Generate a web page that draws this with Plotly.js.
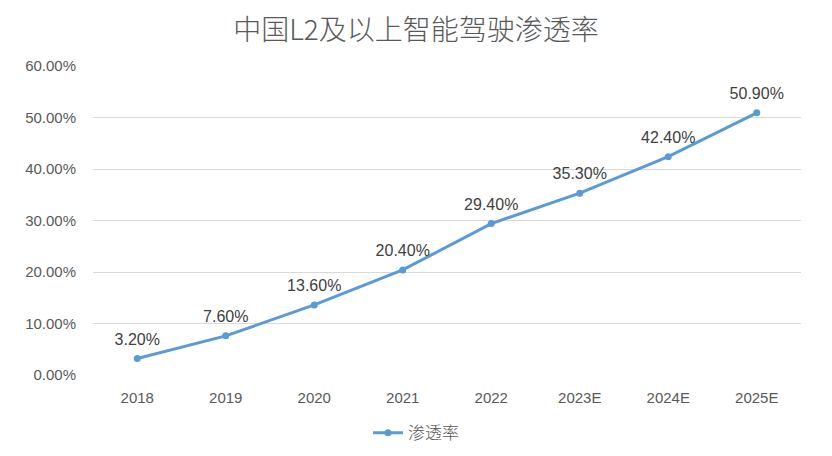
<!DOCTYPE html>
<html>
<head>
<meta charset="utf-8">
<script src="https://cdn.plot.ly/plotly-3.0.1.min.js"></script>
<style>html,body{margin:0;padding:0;background:#fff;}#chart{width:832px;height:456px;}</style>
</head>
<body>
<div id="chart"></div>
<script>
const categories = ["2018", "2019", "2020", "2021", "2022", "2023E", "2024E", "2025E"];
const penetration = [3.2, 7.6, 13.6, 20.4, 29.4, 35.3, 42.4, 50.9];
const seriesName = "渗透率";
const yTickVals = [0, 10, 20, 30, 40, 50, 60];
const yTickText = ["0.00%", "10.00%", "20.00%", "30.00%", "40.00%", "50.00%", "60.00%"];

const font = "'Liberation Sans', 'Noto Sans CJK SC', sans-serif";
const lineTrace = {
  x: categories,
  y: penetration,
  type: "scatter",
  mode: "lines+markers",
  name: seriesName,
  line: {color: "#5B9BD5", width: 3},
  marker: {color: "#5B9BD5", size: 7},
  cliponaxis: false,
  hoverinfo: "skip"
};
const labelTrace = {
  x: categories,
  y: penetration,
  type: "scatter",
  mode: "markers+text",
  showlegend: false,
  marker: {color: "rgba(0,0,0,0)", size: 14},
  text: penetration.map(v => v.toFixed(2) + "%"),
  textposition: "top center",
  textfont: {family: font, size: 16, color: "#404040"},
  cliponaxis: false,
  hoverinfo: "skip"
};
const layout = {
  width: 832, height: 456,
  margin: {l: 93, r: 31, t: 66, b: 81},
  paper_bgcolor: "#fff", plot_bgcolor: "#fff",
  title: {text: "中国L2及以上智能驾驶渗透率", x: 0.5, xanchor: "center", y: 0.934, yanchor: "middle",
          font: {family: "'Noto Sans CJK SC', sans-serif", size: 28, weight: 300, color: "#595959"}},
  xaxis: {type: "category", range: [-0.5, 7.5], showgrid: false, zeroline: false, showline: false, automargin: false,
          ticks: "", ticklabelstandoff: 12, tickfont: {family: font, size: 15, color: "#595959"}, fixedrange: true},
  yaxis: {range: [0, 60], tickvals: yTickVals, ticktext: yTickText, showgrid: true, gridcolor: "#D9D9D9", automargin: false,
          gridwidth: 1, zeroline: false, showline: false, ticks: "", ticklen: 0, ticklabelstandoff: 16,
          tickfont: {family: font, size: 15, color: "#595959"}, fixedrange: true},
  showlegend: true,
  legend: {orientation: "h", xref: "container", x: 0.5, xanchor: "center", yref: "container", y: 0.05, yanchor: "middle",
           font: {family: "'Noto Sans CJK SC', sans-serif", size: 17, weight: 300, color: "#595959"}}
};
Plotly.newPlot("chart", [lineTrace, labelTrace], layout, {displayModeBar: false, staticPlot: true});
</script>
</body>
</html>
